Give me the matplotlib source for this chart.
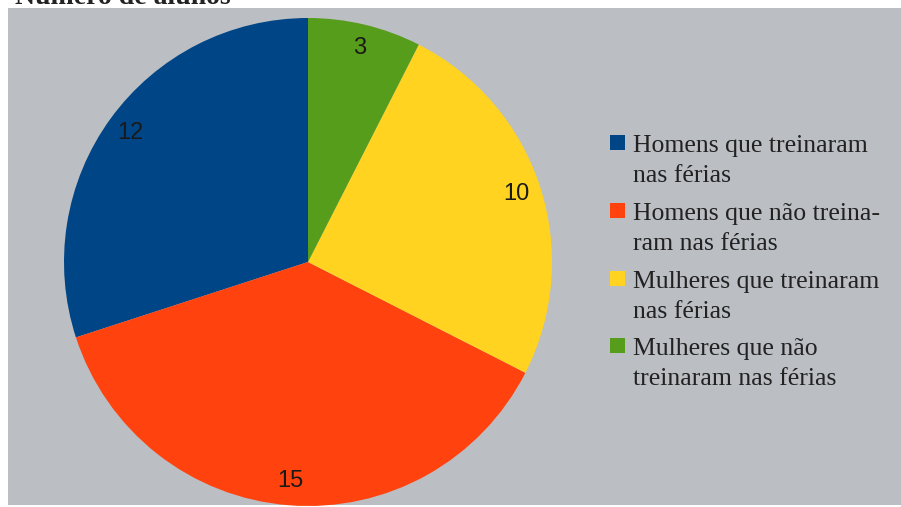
import matplotlib
matplotlib.use("Agg")
import matplotlib.pyplot as plt
from matplotlib.patches import Rectangle

# Data
categories = [
    "Homens que treinaram\nnas férias",
    "Homens que não treina-\nram nas férias",
    "Mulheres que treinaram\nnas férias",
    "Mulheres que não\ntreinaram nas férias",
]
values = [12, 15, 10, 3]
colors = ["#004586", "#ff420e", "#ffd320", "#579d1c"]
title = "Número de alunos"

W, H = 901, 507
fig = plt.figure(figsize=(W / 100, H / 100), dpi=100)
fig.patch.set_facecolor("white")

# Grey chart area (behind everything)
fig.patches.append(Rectangle((8 / W, 2 / H), (W - 8) / W, (H - 10) / H,
                             transform=fig.transFigure, facecolor="#bbbec2",
                             edgecolor="none", zorder=-5))

# Title, mostly cut off at the top edge
fig.text(15 / W, 1 - 4 / H, title, fontsize=20, fontweight="bold",
         family="Liberation Serif", color="#222222", va="baseline", ha="left")

# Pie
cx, cy, r = 308, 262, 244
ax = fig.add_axes([(cx - r) / W, (H - cy - r) / H, 2 * r / W, 2 * r / H])
ax.set_facecolor("none")
ax.set_zorder(1)
total = sum(values)
wedges, _, autotexts = ax.pie(
    values, colors=colors, startangle=90, counterclock=True, radius=1,
    autopct=lambda p: f"{round(p * total / 100)}", pctdistance=0.9,
    wedgeprops=dict(linewidth=0),
    textprops=dict(fontsize=17, family="Liberation Sans", color="#1a1a1a"),
)
ax.set_xlim(-1, 1)
ax.set_ylim(-1, 1)
ax.set_aspect("equal")
ax.axis("off")

# Legend
entry_base = [152, 220, 288, 355]
line_gap = 30
for label, col, yb in zip(categories, colors, entry_base):
    fig.patches.append(Rectangle((610 / W, (H - 150) / H + (152 - yb) / H),
                                 15 / W, 15 / H,
                                 transform=fig.transFigure, facecolor=col,
                                 edgecolor="none", zorder=2))
    for i, line in enumerate(label.split("\n")):
        fig.text(633 / W, (H - yb - i * line_gap) / H, line, fontsize=18.5,
                 family="Liberation Serif", color="#222222",
                 va="baseline", ha="left")

fig.savefig("out.png", dpi=100, facecolor=fig.get_facecolor())
